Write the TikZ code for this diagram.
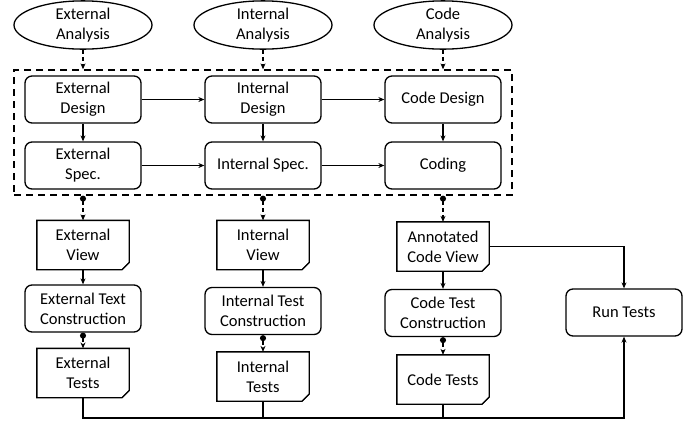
\documentclass[tikz,border=0pt]{standalone}
\usepackage{fontspec}
\setmainfont{Carlito}
\usetikzlibrary{shapes.geometric,arrows.meta}

\begin{document}
\begin{tikzpicture}[x=1pt, y=-1pt, line width=1.3pt,
	font=\fontsize{16.5}{20}\selectfont,
	>={Stealth[length=6pt,width=5pt]},
	phase/.style = {draw, ellipse, minimum width=138pt, minimum height=48pt, inner sep=0pt, align=center},
	stepbox/.style = {draw, rounded corners=7pt, minimum width=116pt, minimum height=47pt, inner sep=2pt, align=center},
	docbox/.style = {minimum width=91pt, minimum height=48pt, inner sep=2pt, align=center},
	flow/.style = {dashed, dash pattern=on 4pt off 3pt, {Circle[length=6pt]}->}]
	\useasboundingbox (0, 0) rectangle (691, 424);

	% analysis
	\node[phase] (extana) at (83, 25) {External\\Analysis};
	\node[phase] (intana) at (263, 25) {Internal\\Analysis};
	\node[phase] (codeana) at (443, 25) {Code\\Analysis};

	% design and specification
	\node[draw, dashed, dash pattern=on 7pt off 5pt, minimum width=498pt, minimum height=125pt, inner sep=0pt] (frame) at (263, 132.5) {};
	\node[stepbox] (extdes) at (83, 99.5) {External\\Design};
	\node[stepbox] (intdes) at (263, 99.5) {Internal\\Design};
	\node[stepbox] (codedes) at (443, 99.5) {Code Design};
	\node[stepbox] (extspec) at (83, 165.5) {External\\Spec.};
	\node[stepbox] (intspec) at (263, 165.5) {Internal Spec.};
	\node[stepbox] (coding) at (443, 165.5) {Coding};

	% views, construction and tests
	\node[docbox] (extview) at (83, 245) {External\\View};
	\node[docbox] (intview) at (263, 245) {Internal\\View};
	\node[docbox] (annview) at (443, 246.5) {Annotated\\Code View};
	\node[stepbox] (extcons) at (83, 308.5) {External Text\\Construction};
	\node[stepbox] (intcons) at (263, 311) {Internal Test\\Construction};
	\node[stepbox] (codecons) at (443, 313) {Code Test\\Construction};
	\node[docbox] (exttests) at (83, 373) {External\\Tests};
	\node[docbox] (inttests) at (263, 376.5) {Internal\\Tests};
	\node[docbox] (codetests) at (443, 379.5) {Code Tests};
	\node[stepbox] (run) at (624, 312.5) {Run Tests};
	\coordinate (bus) at (0, 418);

	\foreach \n in {extview, intview, annview, exttests, inttests, codetests} {
		\draw (\n.north west) -- (\n.north east) -- ([yshift=7pt]\n.south east)
			-- ([xshift=-7pt]\n.south east) -- (\n.south west) -- cycle;
		\draw[fill=black, line width=0.8pt] ([yshift=7pt]\n.south east) .. controls ([xshift=-4pt,yshift=4pt]\n.south east) .. ([xshift=-7pt]\n.south east)
			.. controls ([xshift=-3pt,yshift=3pt]\n.south east) .. ([yshift=7pt]\n.south east);
	}

	\foreach \a/\b in {extana/extdes, intana/intdes, codeana/codedes}
		\draw[->, dashed, dash pattern=on 4pt off 3pt] (\a) -- (\a |- frame.north);
	\foreach \a/\b in {extdes/intdes, intdes/codedes, extspec/intspec, intspec/coding,
		extdes/extspec, intdes/intspec, codedes/coding,
		extview/extcons, intview/intcons, annview/codecons}
		\draw[->] (\a) -- (\b);
	\foreach \b in {extview, intview, annview}
		\draw[flow] (\b |- frame.south) -- (\b);
	\foreach \a/\b in {extcons/exttests, intcons/inttests, codecons/codetests}
		\draw[flow] (\a) -- (\b);

	\draw[->] (annview) -| (run);
	\draw[->] (exttests) -- (exttests |- bus) -| (run);
	\draw (inttests) -- (inttests |- bus);
	\draw (codetests) -- (codetests |- bus);
\end{tikzpicture}
\end{document}
